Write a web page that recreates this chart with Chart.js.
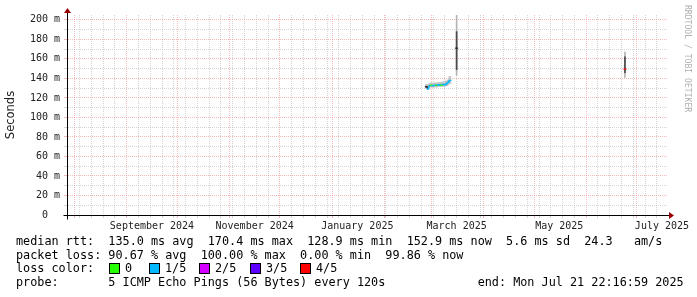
<!DOCTYPE html>
<html lang="en">
<head>
<meta charset="UTF-8">
<title>Smokeping - last 360 days</title>
<script src="https://cdn.jsdelivr.net/npm/chart.js"></script>
<style>
    body { margin: 0; background: #fff; }
    .wrap { position: relative; width: 697px; height: 297px; overflow: hidden; background: #fff; }
    canvas { position: absolute; left: 0; top: 0; }
    .txt { position: absolute; font-family: "DejaVu Sans Mono", monospace; font-size: 11.8px; line-height: 13.7px; white-space: pre; color: #000; }
    .box { position: absolute; top: 263px; width: 9px; height: 9px; border: 1px solid #000; }
    .credit { position: absolute; left: 683px; top: 5px; writing-mode: vertical-rl; font-family: "DejaVu Sans Mono", monospace; font-size: 8.1px; color: #b0b0b0; white-space: pre; }
</style>
</head>
<body>
<div class="wrap">
    <canvas id="chart" width="697" height="297"></canvas>
    <div class="credit">RRDTOOL / TOBI OETIKER</div>
    <div class="txt" style="left:16px; top:235px">median rtt:  135.0 ms avg  170.4 ms max  128.9 ms min  152.9 ms now  5.6 ms sd  24.3   am/s
packet loss: 90.67 % avg  100.00 % max  0.00 % min  99.86 % now
loss color:
probe:       5 ICMP Echo Pings (56 Bytes) every 120s             end: Mon Jul 21 22:16:59 2025</div>
    <div id="lossLegend"></div>
</div>

<script>
    // visible time window of the x axis (UTC)
    const startTime = Date.UTC(2024, 6, 27, 12);
    const endTime = Date.UTC(2025, 6, 19, 0);

    // samples (ms)
    const sampleDays = ['2025-02-26', '2025-02-27', '2025-02-28', '2025-03-01', '2025-03-02',
                        '2025-03-03', '2025-03-04', '2025-03-05', '2025-03-06', '2025-03-07',
                        '2025-03-08', '2025-03-09', '2025-03-10', '2025-03-11', '2025-03-12',
                        '2025-03-16', '2025-06-24'];
    const medianRtt = [131.5, 129.2, 132.5, 133.0, 132.5, 133.0, 132.8, 133.2, 133.5, 133.0,
                       133.8, 133.5, 134.5, 136.0, 138.0, 171.0, 149.5];
    const smokeLow  = [130.0, 128.9, 131.0, 131.5, 131.0, 131.5, 131.0, 131.5, 132.0, 131.5,
                       132.0, 132.0, 132.5, 133.5, 135.0, 143.0, 141.0];
    const smokeHigh = [134.0, 133.5, 135.0, 135.5, 135.0, 135.5, 135.5, 135.5, 136.0, 136.0,
                       136.5, 137.0, 137.5, 138.5, 142.0, 206.0, 167.0];
    const coreLow   = [null, null, null, null, null, null, null, null, null, null,
                       null, null, null, null, null, 149.0, 146.0];
    const coreHigh  = [null, null, null, null, null, null, null, null, null, null,
                       null, null, null, null, null, 188.0, 162.0];
    const lossLevel = [5, 1, 1, 0, 1, 1, 0, 1, 1, 0, 1, 1, 1, 1, 1, 5, 4];

    // 0, 1/5, 2/5, 3/5, 4/5 (index 5 = dark median without legend entry)
    const lossNames  = ['0', '1/5', '2/5', '3/5', '4/5'];
    const lossColors = ['#26ff00', '#00b8ff', '#d400ff', '#5e00ff', '#ff0000', '#222222'];

    // axis labels
    const xLabelText = ['September 2024', 'November 2024', 'January 2025', 'March 2025', 'May 2025', 'July 2025'];
    const xLabelDays = ['2024-09-16', '2024-11-16', '2025-01-16', '2025-03-16', '2025-05-16', '2025-07-16'];
    const yTickValues = [0, 10, 20, 30, 40, 50, 60, 70, 80, 90, 100, 110, 120, 130, 140, 150, 160, 170, 180, 190, 200];
    const yLabelText = ['0  ', '20 m', '40 m', '60 m', '80 m', '100 m', '120 m', '140 m', '160 m', '180 m', '200 m'];

    const DAY = 86400000;
    const majorGrid = 'rgba(235, 120, 120, 0.5)';
    const minorGrid = 'rgba(170, 170, 170, 0.5)';

    // loss colour legend boxes
    const boxX = [109, 149, 199, 250, 300];
    document.getElementById('lossLegend').innerHTML = lossNames.map((name, i) =>
        '<div class="box" style="left:' + boxX[i] + 'px; background:' + lossColors[i] + '"></div>' +
        '<div class="txt" style="left:' + (boxX[i] + 16) + 'px; top:262.4px">' + name + '</div>'
    ).join('');

    function buildTimeTicks() {
        const ticks = [];
        const d = new Date(Date.UTC(2024, 7, 1));
        while (+d < endTime) {
            ticks.push({ value: +d, kind: 'major' });
            d.setUTCMonth(d.getUTCMonth() + 1);
        }
        const months = new Set(ticks.map(t => t.value));
        for (let w = Date.UTC(2024, 6, 28); w < endTime; w += 7 * DAY) {
            if (!months.has(w)) ticks.push({ value: w, kind: 'minor' });
        }
        xLabelDays.forEach((s, i) => ticks.push({ value: Date.parse(s), kind: 'label', text: xLabelText[i] }));
        return ticks.sort((a, b) => a.value - b.value);
    }

    const times = sampleDays.map(s => Date.parse(s));
    // a sample is part of a run when it has a neighbour within two days
    const inRun = times.map((t, i) =>
        (i > 0 && t - times[i - 1] <= 2 * DAY) || (i < times.length - 1 && times[i + 1] - t <= 2 * DAY));
    const range = (lo, hi, run) => times.map((t, i) => ({ x: t, y: lo[i] == null ? null : [lo[i], hi[i]], run: inRun[i] }))
                                        .filter(p => p.y !== null && p.run === run);

    const axisArrows = {
        id: 'axisArrows',
        afterDraw(chart) {
            const { ctx, chartArea: a } = chart;
            const x0 = Math.floor(a.left) + 0.5;
            const y0 = Math.floor(a.bottom) + 0.5;
            ctx.save();
            ctx.strokeStyle = '#000';
            ctx.lineWidth = 1;
            ctx.beginPath();
            ctx.moveTo(x0 - 4, y0); ctx.lineTo(a.right + 3, y0);
            ctx.moveTo(x0, y0 + 4); ctx.lineTo(x0, a.top - 2);
            ctx.stroke();
            ctx.fillStyle = '#990000';
            ctx.beginPath();
            ctx.moveTo(x0 - 3.5, a.top - 2); ctx.lineTo(x0 + 3.5, a.top - 2); ctx.lineTo(x0, a.top - 7);
            ctx.closePath(); ctx.fill();
            ctx.beginPath();
            ctx.moveTo(a.right + 2, y0 - 3.5); ctx.lineTo(a.right + 2, y0 + 3.5); ctx.lineTo(a.right + 7, y0);
            ctx.closePath(); ctx.fill();
            ctx.restore();
        }
    };

    const smokeSet = (label, data, color, thickness, order) => ({
        label, data, backgroundColor: color, barThickness: thickness, grouped: false, order
    });

    new Chart(document.getElementById('chart'), {
        type: 'bar',
        data: {
            datasets: [
                smokeSet('smoke run', range(smokeLow, smokeHigh, true), '#c4c4c4', 2, 4),
                smokeSet('smoke single', range(smokeLow, smokeHigh, false), '#b4b4b4', 1, 4),
                smokeSet('smoke core', range(coreLow, coreHigh, false), '#4a4a4a', 1, 3),
                {
                    type: 'line',
                    label: 'median rtt',
                    data: times.map((t, i) => ({ x: t, y: medianRtt[i] })),
                    borderWidth: 1.2,
                    tension: 0,
                    fill: false,
                    segment: {
                        borderColor: c => (c.p1.parsed.x - c.p0.parsed.x > 2 * DAY)
                            ? 'rgba(0,0,0,0)' : lossColors[lossLevel[c.p0DataIndex]]
                    },
                    pointStyle: 'line',
                    pointRadius: 1.5,
                    pointBorderWidth: 1.2,
                    pointBorderColor: c => lossColors[lossLevel[c.dataIndex]],
                    order: 1
                }
            ]
        },
        options: {
            responsive: false,
            animation: false,
            events: [],
            layout: { padding: { left: 0, right: 30, top: 15, bottom: 0 } },
            plugins: { legend: { display: false }, tooltip: { enabled: false } },
            scales: {
                x: {
                    type: 'linear',
                    min: startTime,
                    max: endTime,
                    offset: false,
                    afterBuildTicks: s => { s.ticks = buildTimeTicks(); },
                    afterFit: s => { s.height = 82; },
                    grid: {
                        offset: false,
                        tickLength: 3,
                        color: c => c.tick && c.tick.kind === 'major' ? majorGrid
                                  : c.tick && c.tick.kind === 'minor' ? minorGrid : 'rgba(0,0,0,0)'
                    },
                    border: { color: '#000', width: 1, dash: [1, 1] },
                    ticks: {
                        autoSkip: false,
                        maxRotation: 0,
                        padding: 2,
                        color: '#222',
                        font: { family: 'DejaVu Sans Mono', size: 10 },
                        callback: (v, i, ticks) => ticks[i].kind === 'label' ? ticks[i].text : ''
                    }
                },
                y: {
                    min: 0,
                    max: 205,
                    afterBuildTicks: s => { s.ticks = yTickValues.map(v => ({ value: v })); },
                    afterFit: s => { s.width = 67; },
                    grid: {
                        tickLength: 3,
                        color: c => c.tick && c.tick.value % 20 === 0 ? majorGrid : minorGrid
                    },
                    border: { color: '#000', width: 1, dash: [1, 1] },
                    ticks: {
                        autoSkip: false,
                        padding: 4,
                        color: '#222',
                        font: { family: 'DejaVu Sans Mono', size: 10 },
                        callback: v => v % 20 === 0 ? yLabelText[v / 20] : ''
                    },
                    title: {
                        display: true,
                        text: 'Seconds',
                        color: '#222',
                        font: { family: 'DejaVu Sans', size: 11.5 },
                        padding: { top: 4, bottom: 0 }
                    }
                }
            }
        },
        plugins: [axisArrows]
    });
</script>
</body>
</html>
